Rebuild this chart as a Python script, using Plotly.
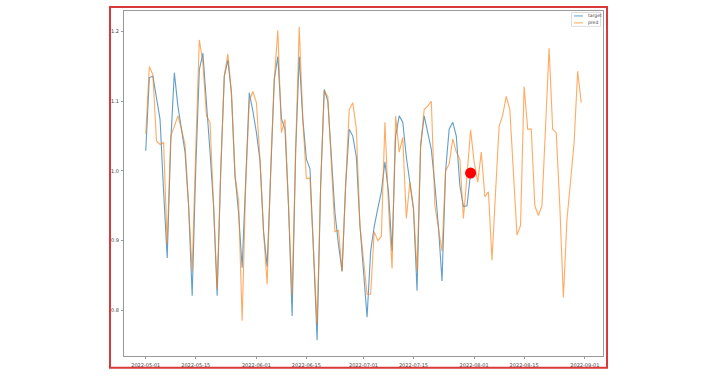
import pandas as pd
import plotly.graph_objects as go

# ---------------- data (daily, starting 2022-05-01) ----------------
start_date = "2022-05-01"

target = [
    1.029, 1.134, 1.136, 1.102, 1.074, 0.970, 0.875,
    1.041, 1.141, 1.093, 1.060, 1.027, 0.950, 0.821,
    1.003, 1.145, 1.169, 1.102, 1.027, 0.950, 0.821,
    1.000, 1.136, 1.159, 1.112, 0.993, 0.940, 0.861,
    0.980, 1.112, 1.086, 1.055, 1.015, 0.913, 0.863,
    1.003, 1.131, 1.164, 1.075, 1.060, 0.950, 0.792,
    1.030, 1.164, 1.074, 1.017, 1.003, 0.885, 0.757,
    0.980, 1.117, 1.100, 1.020, 0.940, 0.894, 0.856,
    0.980, 1.060, 1.050, 1.020, 0.922, 0.856, 0.790,
    0.885, 0.920, 0.946, 0.970, 1.013, 0.970, 0.885,
    1.050, 1.079, 1.070, 1.020, 0.980, 0.946, 0.828,
    1.036, 1.079, 1.055, 1.031, 0.980, 0.920, 0.842,
    1.000, 1.060, 1.070, 1.050, 0.979, 0.949, 0.950,
    0.997,
]

pred = [
    1.053, 1.150, 1.138, 1.043, 1.038, 1.041, 0.894,
    1.050, 1.064, 1.079, 1.060, 1.038, 0.950, 0.856,
    1.030, 1.188, 1.155, 1.079, 1.070, 0.950, 0.830,
    1.000, 1.136, 1.168, 1.112, 0.993, 0.958, 0.785,
    0.980, 1.100, 1.114, 1.098, 1.017, 0.913, 0.837,
    1.003, 1.131, 1.202, 1.055, 1.074, 0.950, 0.822,
    1.030, 1.207, 1.074, 0.989, 0.990, 0.885, 0.780,
    0.980, 1.115, 1.107, 1.003, 0.913, 0.915, 0.856,
    0.980, 1.088, 1.098, 1.060, 0.922, 0.870, 0.823,
    0.823, 0.913, 0.900, 0.906, 1.070, 0.950, 0.860,
    1.079, 1.027, 1.048, 0.932, 0.984, 0.946, 0.856,
    1.036, 1.088, 1.093, 1.100, 0.950, 0.920, 0.885,
    1.000, 1.010, 1.046, 1.027, 1.017, 0.932, 0.993,
    1.059, 1.013, 0.984, 1.027, 0.963, 0.970, 0.872,
    0.970, 1.064, 1.080, 1.107, 1.088, 0.990, 0.908,
    0.922, 1.121, 1.060, 1.060, 0.950, 0.936, 0.950,
    1.060, 1.176, 1.060, 1.055, 0.950, 0.818, 0.930,
    0.980, 1.040, 1.143, 1.098,
]

x_ticks = ["2022-05-01", "2022-05-15", "2022-06-01", "2022-06-15", "2022-07-01",
           "2022-07-15", "2022-08-01", "2022-08-15", "2022-09-01"]
y_ticks = [0.8, 0.9, 1.0, 1.1, 1.2]
series_names = ["target", "pred"]

dates_pred = pd.date_range(start_date, periods=len(pred), freq="D")
dates_target = dates_pred[:len(target)]

# ---------------- layout geometry ----------------
W, H = 720, 378
L, R, T, B = 124, 117, 10, 19
PW, PH = W - L - R, H - T - B

def px(x):
    return (x - L) / PW

def py(y):
    return (H - B - y) / PH

BLUE = "#1f77b4"
ORANGE = "#ff7f0e"

fig = go.Figure()
fig.add_trace(go.Scatter(x=dates_target, y=target, mode="lines", name=series_names[0],
                         line=dict(color=BLUE, width=1.1), opacity=0.7))
fig.add_trace(go.Scatter(x=dates_pred, y=pred, mode="lines", name=series_names[1],
                         line=dict(color=ORANGE, width=1.1), opacity=0.65))
fig.add_trace(go.Scatter(x=[dates_target[-1]], y=[target[-1]], mode="markers",
                         marker=dict(color="#ff0000", size=11), showlegend=False))

# matplotlib-style 5% auto margins
span = dates_pred[-1] - dates_pred[0]
x_range = [dates_pred[0] - span * 0.05, dates_pred[-1] + span * 0.05]
all_v = target + pred
vmin, vmax = min(all_v), max(all_v)
vpad = (vmax - vmin) * 0.05
y_range = [vmin - vpad, vmax + vpad]

tick_font = dict(family="DejaVu Sans", size=5, color="#444")

fig.update_layout(
    width=W, height=H,
    margin=dict(l=L, r=R, t=T, b=B),
    paper_bgcolor="white", plot_bgcolor="white",
    showlegend=False,
    xaxis=dict(range=x_range, tickvals=x_ticks, ticktext=x_ticks, showgrid=False,
               zeroline=False, showline=True, linecolor="#999", linewidth=1, mirror=True,
               ticks="outside", ticklen=2, tickcolor="#999", tickfont=tick_font,
               ticklabelstandoff=2),
    yaxis=dict(range=y_range, tickvals=y_ticks, ticktext=[f"{v:.1f}" for v in y_ticks],
               showgrid=False, zeroline=False, showline=True, linecolor="#999", linewidth=1,
               mirror=True, ticks="outside", ticklen=2, tickcolor="#999", tickfont=tick_font,
               ticklabelstandoff=1),
)

# red frame around the figure
fig.add_shape(type="rect", xref="paper", yref="paper",
              x0=px(110), x1=px(607), y0=py(371), y1=py(6),
              line=dict(color="#d83a3a", width=2), fillcolor="rgba(0,0,0,0)")

# legend (matplotlib-like, upper right)
fig.add_shape(type="rect", xref="paper", yref="paper",
              x0=px(571.5), x1=px(600.5), y0=py(25.5), y1=py(11.5),
              line=dict(color="#ddd", width=1), fillcolor="white")
for i, (name, col) in enumerate(zip(series_names, [BLUE, ORANGE])):
    yy = 15 + i * 7
    fig.add_shape(type="line", xref="paper", yref="paper",
                  x0=px(574), x1=px(583), y0=py(yy), y1=py(yy),
                  line=dict(color=col, width=1), opacity=0.7)
    fig.add_annotation(xref="paper", yref="paper", x=px(585.5), y=py(yy), text=name,
                       showarrow=False, xanchor="left", yanchor="middle",
                       font=dict(family="DejaVu Sans", size=4.5, color="#444"))

fig.write_html("out.html")
